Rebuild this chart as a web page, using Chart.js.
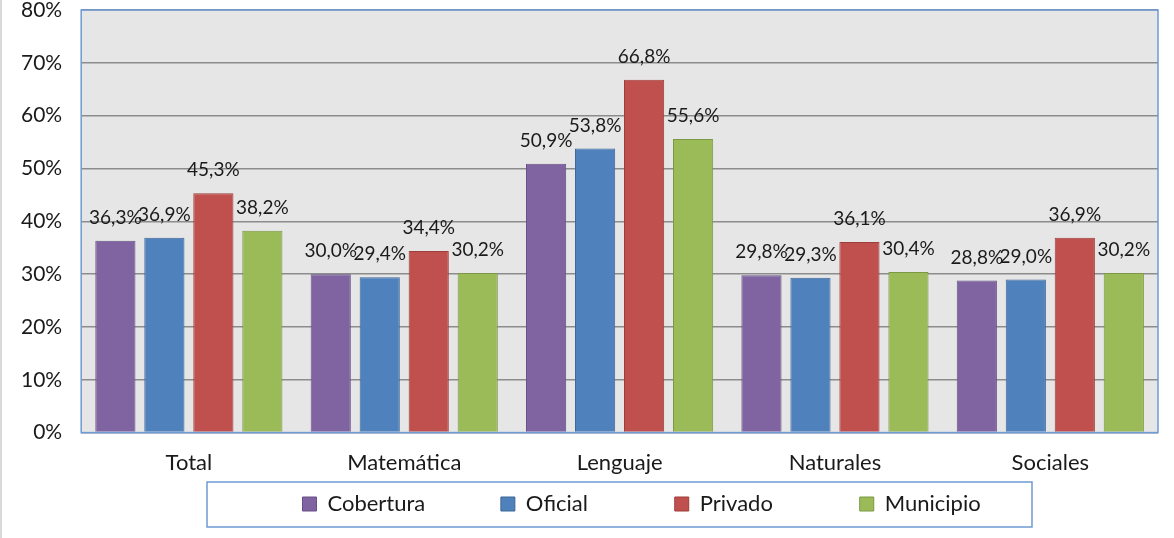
<!DOCTYPE html>
<html>
<head>
<meta charset="utf-8">
<script src="https://cdn.jsdelivr.net/npm/chart.js@4.4.0/dist/chart.umd.min.js"></script>
<style>
  html, body { margin: 0; padding: 0; background: #fff; }
  #wrap { width: 1174px; height: 538px; position: relative; border-left: 2px solid #d9d9d9; box-sizing: border-box; }
</style>
</head>
<body>
<div id="wrap"><canvas id="chart" width="1172" height="538"></canvas></div>
<script>
// categories and series (percent)
const labels = ['Total', 'Matemática', 'Lenguaje', 'Naturales', 'Sociales'];
const cobertura = [36.3, 30.0, 50.9, 29.8, 28.8];
const oficial = [36.9, 29.4, 53.8, 29.3, 29.0];
const privado = [45.3, 34.4, 66.8, 36.1, 36.9];
const municipio = [38.2, 30.2, 55.6, 30.4, 30.2];

const FONT = 'Lato, "Open Sans", sans-serif';

function fmt(v){
    return v.toFixed(1).replace('.', ',') + '%';
}

// spaces after legend text so items sit as far apart as in the original
const measure = document.createElement('canvas').getContext('2d');
measure.font = '22px ' + FONT;
const nbspW = measure.measureText('\u00a0').width || 5;
function spaces(px){ return '\u00a0'.repeat(Math.max(1, Math.round(px / nbspW))); }
const legendGaps = [70, 79, 79];

// plot background + blue frame
const plotFrame = {
    id: 'plotFrame',
    beforeDraw(chart){
        const a = chart.chartArea, ctx = chart.ctx;
        ctx.save();
        ctx.fillStyle = '#e6e6e6';
        ctx.fillRect(a.left, a.top, a.right - a.left, a.bottom - a.top);
        ctx.restore();
    },
    afterDatasetsDraw(chart){
        const a = chart.chartArea, ctx = chart.ctx;
        ctx.save();
        ctx.strokeStyle = '#6d9bd3';
        ctx.lineWidth = 1.5;
        ctx.strokeRect(a.left, a.top, a.right - a.left, a.bottom - a.top);
        ctx.restore();
    }
};

// value labels above bars
const valueLabels = {
    id: 'valueLabels',
    afterDatasetsDraw(chart){
        const ctx = chart.ctx;
        ctx.save();
        ctx.font = '19px ' + FONT;
        ctx.fillStyle = '#1a1a1a';
        ctx.textAlign = 'center';
        ctx.textBaseline = 'middle';
        chart.data.datasets.forEach((ds, i) => {
            chart.getDatasetMeta(i).data.forEach((bar, j) => {
                ctx.fillText(fmt(ds.data[j]), bar.x, bar.y - 23);
            });
        });
        ctx.restore();
    }
};

// box round the legend
const legendBox = {
    id: 'legendBox',
    afterDraw(chart){
        const ctx = chart.ctx;
        ctx.save();
        ctx.strokeStyle = '#6d9bd3';
        ctx.lineWidth = 1.5;
        ctx.strokeRect(205, 482, 825, 45);
        ctx.restore();
    }
};

const data = {
    labels: labels,
    datasets: [
        { label: 'Cobertura', data: cobertura, backgroundColor: '#8064a2', borderColor: '#664f83' },
        { label: 'Oficial', data: oficial, backgroundColor: '#4f81bd', borderColor: '#3d6797' },
        { label: 'Privado', data: privado, backgroundColor: '#c0504d', borderColor: '#9c3e3b' },
        { label: 'Municipio', data: municipio, backgroundColor: '#9bbb59', borderColor: '#7d9845' }
    ]
};
data.datasets.forEach(d => {
    d.borderWidth = 1;
    d.barPercentage = 0.82;
    d.categoryPercentage = 0.91;
});

const config = {
    type: 'bar',
    data: data,
    options: {
        responsive: false,
        animation: false,
        layout: { padding: { top: 0, right: 16, left: 0, bottom: 13 } },
        plugins: {
            tooltip: { enabled: false },
            legend: {
                position: 'bottom',
                labels: {
                    font: { family: FONT, size: 22 },
                    color: '#1a1a1a',
                    boxWidth: 14,
                    boxHeight: 14,
                    padding: 8,
                    generateLabels(chart){
                        const items = Chart.defaults.plugins.legend.labels.generateLabels(chart);
                        items.forEach((it, i) => {
                            if (i < items.length - 1) it.text = it.text + spaces(legendGaps[i]);
                        });
                        // invisible lead item pushes the row to the right
                        items.unshift({ text: spaces(89), fillStyle: 'rgba(0,0,0,0)', strokeStyle: 'rgba(0,0,0,0)', lineWidth: 0, hidden: false, datasetIndex: -1 });
                        return items;
                    }
                },
                onClick(){}
            }
        },
        scales: {
            x: {
                grid: { display: false },
                border: { display: false },
                ticks: { font: { family: FONT, size: 22 }, color: '#1a1a1a', padding: 9 }
            },
            y: {
                min: 0,
                max: 80,
                grid: { color: '#8c8c8c', lineWidth: 1.5, drawTicks: false },
                border: { display: false },
                afterFit(scale){
                    scale.paddingTop = 10;
                },
                ticks: {
                    stepSize: 10,
                    padding: 19,
                    font: { family: FONT, size: 21 },
                    color: '#1a1a1a',
                    callback: v => v + '%'
                }
            }
        }
    },
    plugins: [plotFrame, valueLabels, legendBox]
};

const mychart = new Chart(document.getElementById('chart'), config);
</script>
</body>
</html>
